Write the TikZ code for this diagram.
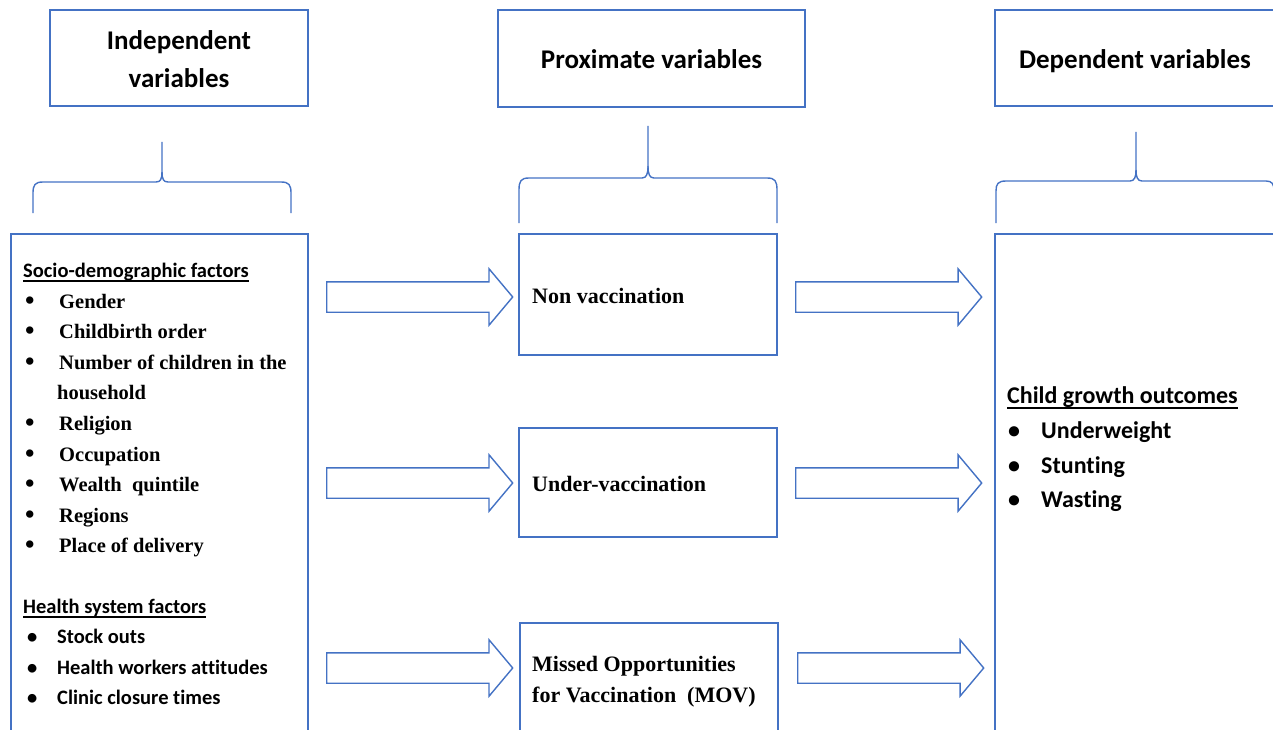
\documentclass[tikz,border=0pt]{standalone}
\usepackage{fontspec}
\setmainfont{Carlito}[Ligatures=NoCommon]
\newfontfamily\tnr{Liberation Serif}
\usetikzlibrary{shapes.arrows,calc}
\definecolor{boxblue}{HTML}{4472C4}
\tikzset{
  frame/.style={draw=boxblue, line width=1.4pt, inner sep=0pt},
  brace/.style={draw=boxblue, line width=1.4pt, line join=round},
  blk/.style={single arrow, draw=boxblue, line width=1.4pt, fill=white, anchor=tail,
    minimum height=186pt, text height=29pt, text depth=0pt, text width=0pt,
    inner sep=0pt, single arrow head extend=13pt, single arrow tip angle=100},
  hdr/.style={inner sep=0pt, anchor=base, font=\fontsize{27pt}{32pt}\selectfont\bfseries},
  lt/.style={inner sep=0pt, anchor=base west, font=\fontsize{20.5pt}{24pt}\selectfont\bfseries},
  ls/.style={inner sep=0pt, anchor=base west, font=\fontsize{20.5pt}{24pt}\selectfont\tnr\bfseries},
  ms/.style={inner sep=0pt, anchor=base west, font=\fontsize{22pt}{26pt}\selectfont\tnr\bfseries},
  rt/.style={inner sep=0pt, anchor=base west, font=\fontsize{24pt}{28pt}\selectfont\bfseries},
  uline/.style={draw=black, line width=1.2pt}
}
\newcommand\bul[2]{\makebox[#1][l]{\textbullet}#2}
\newcommand\tbul[2]{\makebox[#1][l]{{\fontsize{27pt}{27pt}\selectfont\raisebox{-1pt}{\textbullet}}}#2}
\begin{document}
\begin{tikzpicture}[x=1pt,y=-1pt]
\useasboundingbox (0,0) rectangle (1273,730);
\clip (0,0) rectangle (1273,730);
% header boxes
\node[frame, minimum width=258pt, minimum height=96pt] (h1) at (179,58) {};
\node[frame, minimum width=307pt, minimum height=97pt] (h2) at (651.5,58.5) {};
\node[frame, minimum width=280pt, minimum height=96pt] (h3) at (1135,58) {};
\node[hdr] (h1a) at (179,50) {Independent};
\node[hdr] (h1b) at (179,88) {variables};
\node[hdr] (h2a) at (651.5,69) {Proximate variables};
\node[hdr] (h3a) at (1135,69) {Dependent variables};
% braces
\draw[brace] (33,213) -- (33,193) .. controls (33,185) and (35,182) .. (43,182) -- (156,182)
  .. controls (160.5,182) and (162,179) .. (162,172) -- (162,142);
\draw[brace] (162,172) .. controls (162,179) and (163.5,182) .. (168,182) -- (281,182)
  .. controls (289,182) and (291,185) .. (291,193) -- (291,213);
\draw[brace] (519,223) -- (519,190) .. controls (519,181) and (521,178) .. (529,178) -- (642,178)
  .. controls (646.5,178) and (648,174) .. (648,166) -- (648,126);
\draw[brace] (648,166) .. controls (648,174) and (649.5,178) .. (654,178) -- (767,178)
  .. controls (775,178) and (777,181) .. (777,190) -- (777,223);
\draw[brace] (996,223) -- (996,191) .. controls (996,184) and (998,181) .. (1006,181) -- (1130,181)
  .. controls (1134.5,181) and (1136,177) .. (1136,170) -- (1136,132);
\draw[brace] (1136,170) .. controls (1136,177) and (1137.5,181) .. (1142,181) -- (1266,181)
  .. controls (1272,181) and (1274,184) .. (1274,191) -- (1274,223);
% main boxes
\node[frame, minimum width=297pt, minimum height=511pt] (L) at (159.5,489.5) {};
\node[frame, minimum width=280pt, minimum height=511pt] (R) at (1135,489.5) {};
\node[frame, minimum width=258pt, minimum height=121pt] (m1) at (648,294.5) {};
\node[frame, minimum width=258pt, minimum height=109pt] (m2) at (648,482.5) {};
\node[frame, minimum width=258pt, minimum height=122pt] (m3) at (649,684) {};
% block arrows
\node[blk] (a1) at (326,297) {};
\node[blk] (a2) at (326,483) {};
\node[blk] (a3) at (326,668) {};
\node[blk] (a4) at (795,297) {};
\node[blk] (a5) at (795,483) {};
\node[blk] (a6) at (797,668) {};
% left box text
\node[lt] (s0) at (23,277) {Socio-demographic factors};
\draw[uline] ($(s0.base west)+(0,4)$) -- ($(s0.base east)+(0,4)$);
\node[ls] (s1) at (25,308) {\tbul{34pt}{Gender}};
\node[ls] (s2) at (25,338.5) {\tbul{34pt}{Childbirth order}};
\node[ls] (s3) at (25,369) {\tbul{34pt}{Number of children in the}};
\node[ls] (s4) at (57,399.5) {household};
\node[ls] (s5) at (25,430) {\tbul{34pt}{Religion}};
\node[ls] (s6) at (25,461) {\tbul{34pt}{Occupation}};
\node[ls] (s7) at (25,491) {\tbul{34pt}{Wealth\ \ quintile}};
\node[ls] (s8) at (25,522) {\tbul{34pt}{Regions}};
\node[ls] (s9) at (25,552) {\tbul{34pt}{Place of delivery}};
\node[lt] (t0) at (23,613) {Health system factors};
\draw[uline] ($(t0.base west)+(0,4)$) -- ($(t0.base east)+(0,4)$);
\node[lt] (t1) at (27,643) {\bul{30pt}{Stock outs}};
\node[lt] (t2) at (27,674) {\bul{30pt}{Health workers attitudes}};
\node[lt] (t3) at (27,704) {\bul{30pt}{Clinic closure times}};
% middle text
\node[ms] (n1) at (532,303) {Non vaccination};
\node[ms] (n2) at (532,491) {Under-vaccination};
\node[ms] (n3) at (532,671) {Missed Opportunities};
\node[ms] (n4) at (532,702) {for Vaccination\ \ (MOV)};
% right text
\node[rt] (c0) at (1007,403) {Child growth outcomes};
\draw[uline] ($(c0.base west)+(0,5)$) -- ($(c0.base east)+(0,5)$);
\node[rt] (c1) at (1008,438) {\bul{33pt}{Underweight}};
\node[rt] (c2) at (1008,473) {\bul{33pt}{Stunting}};
\node[rt] (c3) at (1008,507) {\bul{33pt}{Wasting}};
\end{tikzpicture}
\end{document}
